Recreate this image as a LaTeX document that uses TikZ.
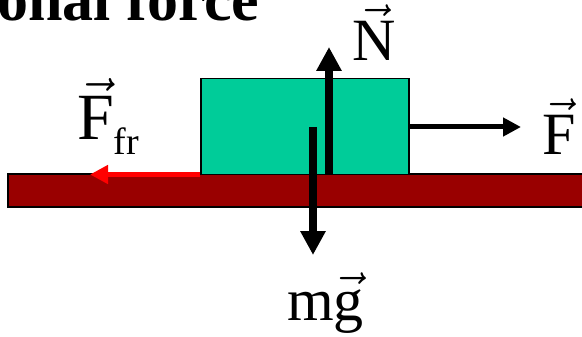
\documentclass[tikz,border=0pt]{standalone}
\usepackage{fix-cm}
\usepackage{fontspec}
\setmainfont{Liberation Serif}
\usetikzlibrary{arrows.meta}
\definecolor{floorred}{HTML}{990000}
\definecolor{blockgreen}{HTML}{00CC99}
\definecolor{frred}{HTML}{FF0000}
\newcommand\vv[1]{\ensuremath{\vec{\mbox{#1}}}}
\tikzset{
  big/.style={font=\fontsize{60}{60}\selectfont, inner sep=0pt, anchor=base west},
  thickforce/.style={line width=7.5pt, -{Triangle[length=24pt,width=24pt]}},
  thinforce/.style={line width=5pt, -{Triangle[length=18pt,width=18pt]}},
}
\begin{document}
\begin{tikzpicture}[x=1pt,y=-1pt]
\useasboundingbox (0,0) rectangle (582,337);
\clip (0,0) rectangle (582,337);
% title (cut off)
\node[big, font=\bfseries\fontsize{62}{62}\selectfont] (title) at (-3,21) {onal force};
% floor
\node[draw=black, line width=2pt, fill=floorred, minimum width=612pt, minimum height=33pt, inner sep=0pt] (floor) at (314,190.5) {};
% block
\node[draw=black, line width=1.5pt, fill=blockgreen, minimum width=208pt, minimum height=96pt, inner sep=0pt] (block) at (305,126.5) {};
% coordinates
\coordinate (Ntip) at (329,47);
\coordinate (gstart) at (313,127);
\coordinate (gtip) at (313,255);
\coordinate (Ftip) at (521,127);
\coordinate (frtip) at (90,174.5);
% forces
\draw[thickforce] (block.south -| Ntip) -- (Ntip);
\draw[thickforce] (gstart) -- (gtip);
\draw[thinforce] (block.east |- Ftip) -- (Ftip);
\draw[thinforce, frred] (block.west |- frtip) -- (frtip);
% labels
\node[big] (Nlab) at (352,61) {\vv{N}};
\node[big] (Flab) at (542,155) {\vv{F}};
\node[big] (glab) at (287,320) {m\vv{g}};
\node[big, font=\fontsize{66}{66}\selectfont] (frlab) at (77,140) {\vv{F}\raisebox{-14pt}{\fontsize{38}{38}\selectfont fr}};
\end{tikzpicture}
\end{document}
